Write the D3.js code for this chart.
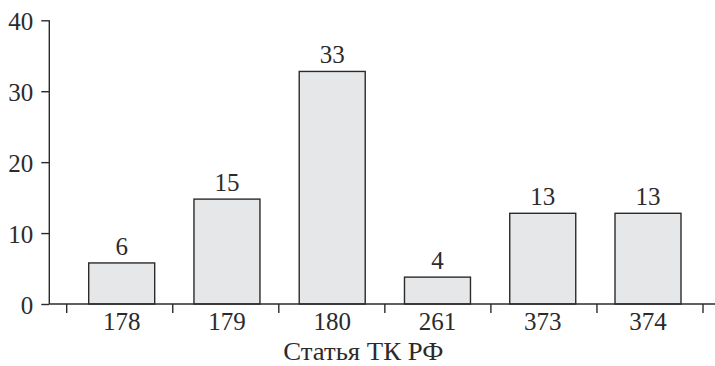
<!DOCTYPE html>
<html><head><meta charset="utf-8">
<script src="https://cdn.jsdelivr.net/npm/d3@7"></script>
<style>body{margin:0;background:#fff}svg{display:block}</style>
</head><body>
<svg id="c" width="715" height="366"></svg>
<script>
const categories = ["178", "179", "180", "261", "373", "374"];
const values = [6, 15, 33, 4, 13, 13];
const yTicks = [0, 10, 20, 30, 40];
const xTitle = "Статья ТК РФ";

const svg = d3.select("#c");
const font = "'Liberation Serif', 'DejaVu Serif', serif";
const fs = 25;
const ink = "#2b2b2b";
const y0 = 304, y1 = 20.3, axisX = 49.3;

const y = d3.scaleLinear().domain([0, 40]).range([y0, y1]);
const yBar = d3.scaleLinear().domain([0, 40]).range([y0 + 1.5, y1 + 1.5]);
const xBar = d3.scaleBand().domain(categories).range([88.7, 681]).paddingInner(0.373).paddingOuter(0);
const xEdge = d3.scaleLinear().domain([0, categories.length]).range([66.7, 703]);

// bars
svg.append("g").selectAll("rect").data(values).join("rect")
  .attr("x", (d, i) => xBar(categories[i]))
  .attr("y", d => yBar(d))
  .attr("width", xBar.bandwidth())
  .attr("height", d => y0 - yBar(d))
  .attr("fill", "#e6e7e8")
  .attr("stroke", ink).attr("stroke-width", 1.4);

// value labels
svg.append("g").selectAll("text").data(values).join("text")
  .attr("x", (d, i) => xBar(categories[i]) + xBar.bandwidth() / 2)
  .attr("y", d => yBar(d) - 8)
  .attr("text-anchor", "middle")
  .attr("font-family", font).attr("font-size", fs).attr("fill", ink)
  .text(d => d);

// y axis
const ya = svg.append("g").attr("transform", `translate(${axisX},0)`)
  .call(d3.axisLeft(y).tickValues(yTicks).tickSize(8).tickPadding(8));
ya.select(".domain").attr("d", `M0,${y1}V${y0}`);
// x axis
const xa = svg.append("g").attr("transform", `translate(0,${y0})`)
  .call(d3.axisBottom(xBar).tickSize(0).tickPadding(8));
xa.select(".domain").attr("d", `M${axisX},0H715`);
xa.append("g").selectAll("line").data(d3.range(categories.length + 1)).join("line")
  .attr("x1", d => xEdge(d)).attr("x2", d => xEdge(d))
  .attr("y1", 0).attr("y2", 9)
  .attr("stroke", ink).attr("stroke-width", 1.4);

[ya, xa].forEach(a => {
  a.selectAll(".domain, .tick line").attr("stroke", ink).attr("stroke-width", 1.4);
  a.selectAll("text").attr("font-family", font).attr("font-size", fs).attr("fill", ink);
});
ya.selectAll(".tick text").attr("dy", "0.36em");

svg.append("text").attr("x", 363.3).attr("y", 360)
  .attr("text-anchor", "middle")
  .attr("font-family", font).attr("font-size", fs).attr("fill", ink)
  .attr("textLength", 160).attr("lengthAdjust", "spacingAndGlyphs")
  .text(xTitle);
</script>
</body></html>
